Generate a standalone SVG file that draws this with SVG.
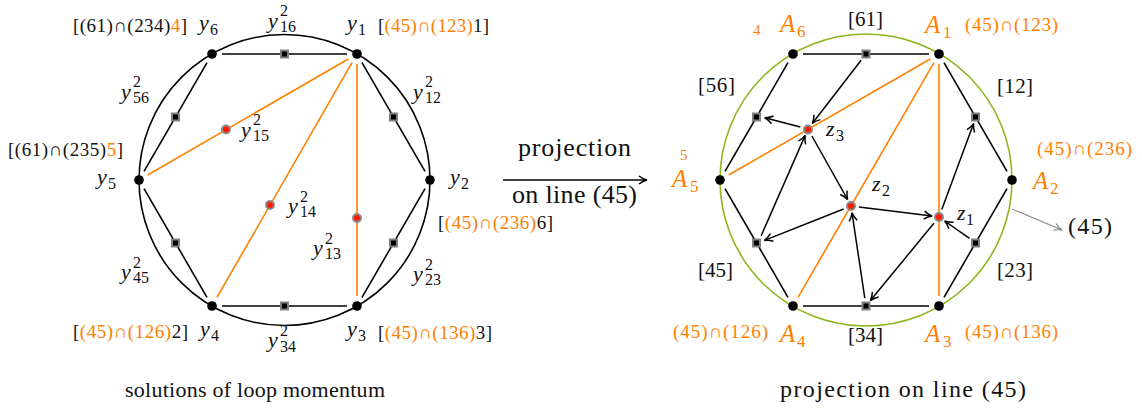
<svg xmlns="http://www.w3.org/2000/svg" width="1142" height="410" viewBox="0 0 1142 410">
<style>
text{font-family:"Liberation Serif","Times New Roman","DejaVu Serif",serif;fill:#111}
.m{font-style:italic;font-size:22px}
.s{font-size:16px}
.A{font-style:italic;font-size:25px;fill:#ff8000}
.As{font-size:17px;fill:#ff8000}
.r{font-size:21px}
.b{font-size:19px}
.sm{font-size:15px;fill:#ff8000}
.cap{font-size:22px}
.cap2{font-size:24px}
.big{font-size:26px}
tspan.o,text.o{fill:#ff8000}
.e{stroke:#000;stroke-width:1.6;fill:none}
.or{stroke:#ff8000;stroke-width:1.6;fill:none}
.ar{stroke:#000;stroke-width:1.5;fill:none;marker-end:url(#ah)}
.dot{fill:#000}
.sq{fill:#000;stroke:#808080;stroke-width:2}
.rd{fill:#ff1a00;stroke:#8a8a8a;stroke-width:2}
</style>
<defs>
<marker id="ah" markerUnits="userSpaceOnUse" markerWidth="12" markerHeight="10" refX="10" refY="5" orient="auto" viewBox="0 0 12 10">
<path d="M2,1 Q6,4 10,5 Q6,6 2,9" fill="none" stroke="#000" stroke-width="1.5"/>
</marker>
<marker id="ahg" markerUnits="userSpaceOnUse" markerWidth="12" markerHeight="10" refX="10" refY="5" orient="auto" viewBox="0 0 12 10">
<path d="M2,1.5 Q6,4 10,5 Q6,6 2,8.5" fill="none" stroke="#888" stroke-width="1.1"/>
</marker>
</defs>
<rect width="1142" height="410" fill="#fff"/>

<!-- LEFT DIAGRAM -->
<circle cx="284.5" cy="180" r="145.5" class="e"/>
<g id="connectors-left">
<line x1="222" y1="54" x2="347" y2="54" class="e"/>
<line x1="362" y1="62.7" x2="425" y2="171.3" class="e"/>
<line x1="425" y1="188.7" x2="362" y2="297.3" class="e"/>
<line x1="347" y1="306" x2="222" y2="306" class="e"/>
<line x1="207" y1="297.3" x2="144" y2="188.7" class="e"/>
<line x1="144" y1="171.3" x2="207" y2="62.7" class="e"/>
<line x1="348.3" y1="59" x2="147.7" y2="175" class="or"/>
<line x1="352" y1="62.7" x2="217" y2="297.3" class="or"/>
<line x1="357" y1="64" x2="357" y2="296" class="or"/>
</g>
<g id="y1"><circle cx="357" cy="54" r="4.8" class="dot"/><text x="347" y="30" class="m">y</text><text x="358" y="35" class="s">1</text>
<text x="378" y="32" class="b" textLength="111" lengthAdjust="spacing">[<tspan class="o">(45)∩(123)</tspan>1]</text></g>
<g id="y6"><circle cx="212" cy="54" r="4.8" class="dot"/><text x="199" y="30" class="m">y</text><text x="210" y="35" class="s">6</text>
<text x="73" y="32" class="b" textLength="114" lengthAdjust="spacing">[(61)∩(234)<tspan class="o">4</tspan>]</text></g>
<g id="y5"><circle cx="139" cy="180" r="4.8" class="dot"/><text x="97" y="184" class="m">y</text><text x="108" y="189" class="s">5</text>
<text x="8" y="156" class="b" textLength="115" lengthAdjust="spacing">[(61)∩(235)<tspan class="o">5</tspan>]</text></g>
<g id="y2"><circle cx="430" cy="180" r="4.8" class="dot"/><text x="450" y="184" class="m">y</text><text x="461" y="189" class="s">2</text>
<text x="438" y="229" class="b" textLength="115" lengthAdjust="spacing">[<tspan class="o">(45)∩(236)</tspan>6]</text></g>
<g id="y4"><circle cx="212" cy="306" r="4.8" class="dot"/><text x="200" y="336" class="m">y</text><text x="211" y="341" class="s">4</text>
<text x="73" y="338" class="b" textLength="115" lengthAdjust="spacing">[<tspan class="o">(45)∩(126)</tspan>2]</text></g>
<g id="y3"><circle cx="357" cy="306" r="4.8" class="dot"/><text x="347" y="336" class="m">y</text><text x="358" y="341" class="s">3</text>
<text x="378" y="339" class="b" textLength="114" lengthAdjust="spacing">[<tspan class="o">(45)∩(136)</tspan>3]</text></g>
<g id="y16"><rect x="281" y="50.5" width="7" height="7" class="sq"/><text x="268" y="28" class="m">y</text><text x="280" y="16" class="s">2</text><text x="280" y="32" class="s">16</text></g>
<g id="y12"><rect x="390" y="113.5" width="7" height="7" class="sq"/><text x="413" y="99" class="m">y</text><text x="425" y="87" class="s">2</text><text x="425" y="103" class="s">12</text></g>
<g id="y23"><rect x="390" y="239.5" width="7" height="7" class="sq"/><text x="413" y="281" class="m">y</text><text x="425" y="270" class="s">2</text><text x="425" y="285" class="s">23</text></g>
<g id="y34"><rect x="281" y="302.5" width="7" height="7" class="sq"/><text x="268" y="347" class="m">y</text><text x="280" y="336" class="s">2</text><text x="280" y="352" class="s">34</text></g>
<g id="y45"><rect x="172" y="239.5" width="7" height="7" class="sq"/><text x="121" y="279" class="m">y</text><text x="133" y="268" class="s">2</text><text x="133" y="283" class="s">45</text></g>
<g id="y56"><rect x="172" y="113.5" width="7" height="7" class="sq"/><text x="121" y="99" class="m">y</text><text x="133" y="87" class="s">2</text><text x="133" y="103" class="s">56</text></g>
<g id="y15"><circle cx="226" cy="129.5" r="4" class="rd"/><text x="241" y="137" class="m">y</text><text x="253" y="125" class="s">2</text><text x="253" y="141" class="s">15</text></g>
<g id="y14"><circle cx="270" cy="205" r="4" class="rd"/><text x="288" y="213" class="m">y</text><text x="300" y="202" class="s">2</text><text x="300" y="217" class="s">14</text></g>
<g id="y13"><circle cx="357" cy="218" r="4" class="rd"/><text x="313" y="255" class="m">y</text><text x="325" y="244" class="s">2</text><text x="325" y="259" class="s">13</text></g>
<text x="125" y="397" class="cap" textLength="260" lengthAdjust="spacing">solutions of loop momentum</text>

<!-- MIDDLE ARROW -->
<g id="projection-arrow">
<line x1="503" y1="180" x2="647" y2="180" class="ar"/>
<text x="518" y="156" class="big" textLength="113" lengthAdjust="spacing">projection</text>
<text x="512" y="203" class="big" textLength="125" lengthAdjust="spacing">on line (45)</text>
</g>

<!-- RIGHT DIAGRAM -->
<circle cx="866" cy="180" r="146" fill="none" stroke="#8db61e" stroke-width="1.6"/>
<g id="connectors-right">
<line x1="803" y1="54" x2="929" y2="54" class="e"/>
<line x1="944" y1="62.7" x2="1007" y2="171.3" class="e"/>
<line x1="1007" y1="188.7" x2="944" y2="297.3" class="e"/>
<line x1="929" y1="306" x2="803" y2="306" class="e"/>
<line x1="788" y1="297.3" x2="725" y2="188.7" class="e"/>
<line x1="725" y1="171.3" x2="788" y2="62.7" class="e"/>
<line x1="930.3" y1="59" x2="728.7" y2="175" class="or"/>
<line x1="934" y1="62.7" x2="798" y2="297.3" class="or"/>
<line x1="939" y1="64" x2="939" y2="296" class="or"/>
<line x1="861.1" y1="60.3" x2="812.3" y2="123.5" class="ar"/>
<line x1="800.3" y1="127" x2="764.8" y2="117.8" class="ar"/>
<line x1="811.9" y1="136" x2="847.6" y2="199.5" class="ar"/>
<line x1="761.2" y1="235.7" x2="805.2" y2="135.4" class="ar"/>
<line x1="843.6" y1="209" x2="764.5" y2="240.4" class="ar"/>
<line x1="858.9" y1="207" x2="932.1" y2="216.1" class="ar"/>
<line x1="864.8" y1="298.1" x2="852" y2="212.9" class="ar"/>
<line x1="933.9" y1="223.2" x2="870.4" y2="300.6" class="ar"/>
<line x1="941.8" y1="209.5" x2="973.6" y2="123.6" class="ar"/>
<line x1="969.5" y1="238.4" x2="944.7" y2="221" class="ar"/>
<line x1="1012" y1="209" x2="1062" y2="230" stroke="#888" stroke-width="1.1" marker-end="url(#ahg)"/>
</g>
<g id="A1"><circle cx="939" cy="54" r="4.8" class="dot"/><text x="925" y="33" class="A">A</text><text x="943" y="38" class="As">1</text>
<text x="965" y="31" class="b o" textLength="93" lengthAdjust="spacing">(45)∩(123)</text></g>
<g id="A6"><circle cx="793" cy="54" r="4.8" class="dot"/><text x="780" y="32" class="A">A</text><text x="797" y="37" class="As">6</text><text x="753" y="35" class="sm">4</text></g>
<g id="A5"><circle cx="720" cy="180" r="4.8" class="dot"/><text x="672" y="187" class="A">A</text><text x="690" y="192" class="As">5</text><text x="680" y="160" class="sm">5</text></g>
<g id="A2"><circle cx="1012" cy="180" r="4.8" class="dot"/><text x="1033" y="189" class="A">A</text><text x="1050" y="194" class="As">2</text>
<text x="1037" y="155" class="b o" textLength="95" lengthAdjust="spacing">(45)∩(236)</text></g>
<g id="A4"><circle cx="793" cy="306" r="4.8" class="dot"/><text x="780" y="342" class="A">A</text><text x="797" y="347" class="As">4</text>
<text x="673" y="338" class="b o" textLength="95" lengthAdjust="spacing">(45)∩(126)</text></g>
<g id="A3"><circle cx="939" cy="306" r="4.8" class="dot"/><text x="925" y="342" class="A">A</text><text x="943" y="347" class="As">3</text>
<text x="965" y="338" class="b o" textLength="93" lengthAdjust="spacing">(45)∩(136)</text></g>
<g id="s61"><rect x="862.5" y="50.5" width="7" height="7" class="sq"/><text x="848" y="26" class="r" textLength="35" lengthAdjust="spacing">[61]</text></g>
<g id="s12"><rect x="972" y="113.5" width="7" height="7" class="sq"/><text x="997" y="93" class="r" textLength="36" lengthAdjust="spacing">[12]</text></g>
<g id="s23"><rect x="972" y="239.5" width="7" height="7" class="sq"/><text x="997" y="277" class="r" textLength="36" lengthAdjust="spacing">[23]</text></g>
<g id="s34"><rect x="862.5" y="302.5" width="7" height="7" class="sq"/><text x="848" y="342" class="r" textLength="35" lengthAdjust="spacing">[34]</text></g>
<g id="s45"><rect x="753" y="239.5" width="7" height="7" class="sq"/><text x="698" y="277" class="r" textLength="35" lengthAdjust="spacing">[45]</text></g>
<g id="s56"><rect x="753" y="113.5" width="7" height="7" class="sq"/><text x="698" y="92" class="r" textLength="37" lengthAdjust="spacing">[56]</text></g>
<g id="z3"><circle cx="808" cy="129.5" r="4" class="rd"/><text x="826" y="136" class="m">z</text><text x="836" y="141" class="s">3</text></g>
<g id="z2"><circle cx="851" cy="206" r="4" class="rd"/><text x="872" y="191" class="m">z</text><text x="882" y="196" class="s">2</text></g>
<g id="z1"><circle cx="939" cy="217" r="4" class="rd"/><text x="957" y="220" class="m">z</text><text x="966" y="225" class="s">1</text></g>
<text x="1068" y="234" class="r" style="font-size:24px" textLength="44" lengthAdjust="spacing">(45)</text>
<text x="780" y="397" class="cap2" textLength="246" lengthAdjust="spacing">projection on line (45)</text>
</svg>
